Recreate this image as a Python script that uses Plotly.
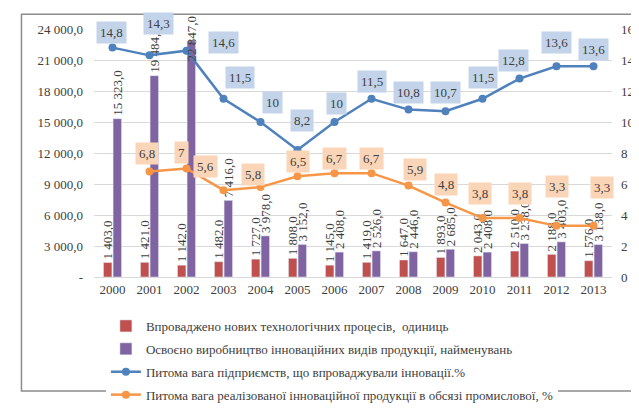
import plotly.graph_objects as go

years = ["2000", "2001", "2002", "2003", "2004", "2005", "2006", "2007",
         "2008", "2009", "2010", "2011", "2012", "2013"]
processes = [1403, 1421, 1142, 1482, 1727, 1808, 1145, 1419, 1647, 1893, 2043, 2510, 2188, 1576]
products = [15323, 19484, 22847, 7416, 3978, 3152, 2408, 2526, 2446, 2685, 2408, 3238, 3403, 3138]
share_enterprises = [14.8, 14.3, 14.6, 11.5, 10, 8.2, 10, 11.5, 10.8, 10.7, 11.5, 12.8, 13.6, 13.6]
years_sales = years[1:]
share_sales = [6.8, 7, 5.6, 5.8, 6.5, 6.7, 6.7, 5.9, 4.8, 3.8, 3.8, 3.3, 3.3]

left_ticks = [0, 3000, 6000, 9000, 12000, 15000, 18000, 21000, 24000]
right_ticks = [0, 2, 4, 6, 8, 10, 12, 14, 16]

names = ["Впроваджено нових технологічних процесів,  одиниць",
         "Освоєно виробництво інноваційних видів продукції, найменувань",
         "Питома вага підприємств, що впроваджували інновації.%",
         "Питома вага реалізованої інноваційної продукції в обсязі промислової, %"]

# label offsets (px) for the data labels
blue_off = [(-1, 15), (9, 32), (37, 8), (16, 21), (12, 20), (4, 29), (2, 19), (0, 17),
            (0, 17), (0, 19), (0, 21), (-6, 18), (0, 24), (0, 17)]
orange_off = [(-3, 18), (-5, 16), (-18, 24), (-8, 13), (0, 15), (0, 15), (0, 15), (6, 16),
              (0, 18), (-3, 25), (0, 25), (0, 39), (8, 38)]
# bar labels that do not fit above the plot are placed over the bar end
overflow_year = "2002"


def fmt(v):
    return f"{v:,.1f}".replace(",", " ").replace(".", ",")


def fmtp(v):
    s = f"{v:g}"
    return s.replace(".", ",")


FONT = "Liberation Serif, Times New Roman, serif"
TXT = "#404040"

prod_text = ["" if y == overflow_year else fmt(v) for y, v in zip(years, products)]

fig = go.Figure()
fig.add_trace(go.Bar(x=years, y=processes, name=names[0], marker_color="#C0504D",
                     text=[fmt(v) for v in processes], textposition="outside", textangle=-90,
                     constraintext="none", cliponaxis=False,
                     textfont=dict(family=FONT, size=13, color=TXT), legendgroup="a"))
fig.add_trace(go.Bar(x=years, y=products, name=names[1], marker_color="#8064A2",
                     text=prod_text, textposition="outside", textangle=-90,
                     constraintext="none", cliponaxis=False,
                     textfont=dict(family=FONT, size=13, color=TXT), legendgroup="b"))
fig.add_trace(go.Scatter(x=years, y=share_enterprises, name=names[2], yaxis="y2",
                         mode="lines+markers", line=dict(color="#4F81BD", width=2.5),
                         marker=dict(size=8, color="#4F81BD"), legendgroup="c"))
fig.add_trace(go.Scatter(x=years_sales, y=share_sales, name=names[3], yaxis="y2",
                         mode="lines+markers", line=dict(color="#F79646", width=2.5),
                         marker=dict(size=8, color="#F79646"), legendgroup="d"))

ann = []
oi = years.index(overflow_year)
ann.append(dict(x=oi, y=products[oi], xref="x", yref="y", text=fmt(products[oi]),
                showarrow=False, textangle=-90, xshift=5, yshift=2,
                font=dict(family=FONT, size=13, color=TXT)))
for x, v, (dx, dy) in zip(years, share_enterprises, blue_off):
    ann.append(dict(x=years.index(x), y=v, xref="x", yref="y2", text=fmtp(v), showarrow=False,
                    xshift=dx, yshift=dy, bgcolor="#C3D4EA", borderpad=3,
                    font=dict(family=FONT, size=13, color=TXT)))
for x, v, (dx, dy) in zip(years_sales, share_sales, orange_off):
    ann.append(dict(x=years.index(x), y=v, xref="x", yref="y2", text=fmtp(v), showarrow=False,
                    xshift=dx, yshift=dy, bgcolor="#FBD5B7", borderpad=3,
                    font=dict(family=FONT, size=13, color=TXT)))

fig.update_layout(
    width=639, height=414,
    margin=dict(l=86, r=32, t=21, b=122),
    paper_bgcolor="white", plot_bgcolor="white",
    barmode="group", bargap=0.48, bargroupgap=0.12,
    font=dict(family=FONT, size=13, color=TXT),
    showlegend=True,
    legend=dict(orientation="v", x=0.023, y=-0.137, xanchor="left", yanchor="top",
                traceorder="grouped", tracegroupgap=3,
                font=dict(family=FONT, size=13, color=TXT)),
    xaxis=dict(type="category", range=[-0.5, len(years) - 0.5], showgrid=False,
               showline=True, linecolor="#D9D9D9", ticks="",
               tickfont=dict(family=FONT, size=13, color=TXT)),
    yaxis=dict(range=[0, 24000], tickvals=left_ticks,
               ticktext=["-"] + [fmt(v) for v in left_ticks[1:]],
               showgrid=True, gridcolor="#D9D9D9", zeroline=False, showline=False,
               ticks="", ticklabelstandoff=10,
               tickfont=dict(family=FONT, size=13, color=TXT)),
    yaxis2=dict(range=[0, 16], tickvals=right_ticks, overlaying="y", side="right",
                showgrid=False, zeroline=False, showline=False, ticks="",
                ticklabelstandoff=8,
                tickfont=dict(family=FONT, size=13, color=TXT)),
    annotations=ann,
    shapes=[dict(type="rect", xref="paper", yref="paper", x0=-0.140, x1=1.059,
                 y0=-0.46, y1=1.059, line=dict(color="#8C8C8C", width=1.5),
                 fillcolor="rgba(0,0,0,0)", layer="below")],
)

fig.write_html("out.html")
